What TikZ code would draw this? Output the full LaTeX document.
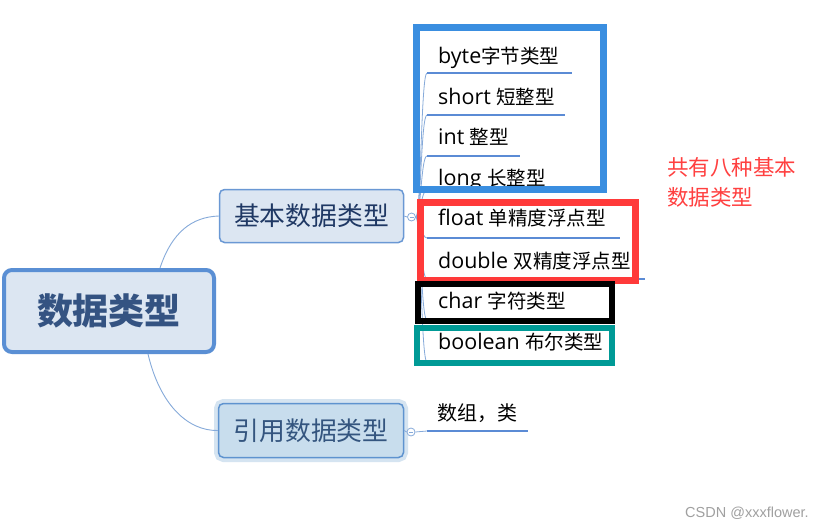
\documentclass[tikz,border=0pt]{standalone}
\usepackage{fontspec}
\setmainfont{Noto Sans CJK SC}
\newfontfamily\lat[Scale=1.1]{Open Sans}
\newfontfamily\wmfont{Liberation Sans}
\usetikzlibrary{calc}
\definecolor{nodefill}{HTML}{DCE6F2}
\definecolor{rootborder}{HTML}{5A8FD4}
\definecolor{basicborder}{HTML}{6A98D4}
\definecolor{roottext}{HTML}{345382}
\definecolor{basictext}{HTML}{1F3864}
\definecolor{reftext}{HTML}{34557F}
\definecolor{reffill}{HTML}{C8DDED}
\definecolor{refborder}{HTML}{5E93CF}
\definecolor{refhalo}{HTML}{D5E4F1}
\definecolor{branchc}{HTML}{86AADA}
\definecolor{ulinec}{HTML}{5B8BD5}
\definecolor{boxblue}{HTML}{3A8EE0}
\definecolor{boxred}{HTML}{FF3A3A}
\definecolor{boxteal}{HTML}{009A96}
\definecolor{notered}{HTML}{FF4040}
\definecolor{wmgray}{HTML}{A0A0A0}
\begin{document}
\begin{tikzpicture}[x=1pt,y=-1pt,
  rootbox/.style={rounded corners=8pt, draw=rootborder, line width=4pt, fill=nodefill,
    minimum width=210pt, minimum height=82pt, inner sep=0pt, text=roottext,
    font=\fontsize{36}{40}\selectfont\bfseries},
  basicbox/.style={rounded corners=5pt, draw=basicborder, line width=1.5pt, fill=nodefill,
    minimum width=184pt, minimum height=53pt, inner sep=0pt, text=basictext,
    font=\fontsize{25.8}{30}\selectfont},
  refbox/.style={rounded corners=5pt, draw=refborder, line width=1.5pt, fill=reffill,
    preaction={draw=refhalo, line width=9pt},
    minimum width=185pt, minimum height=54pt, inner sep=0pt, text=reftext,
    font=\fontsize{25.8}{30}\selectfont},
  leaf/.style={anchor=base west, inner sep=0pt, text=black, font=\fontsize{19.5}{22}\selectfont},
  mainline/.style={draw=branchc, line width=0.9pt},
  branch/.style={draw=branchc, line width=0.8pt},
  uline/.style={draw=ulinec, line width=2pt},
  knob/.style={circle, draw=branchc, fill=white, line width=0.8pt, minimum size=8pt, inner sep=0pt}
]
\useasboundingbox (0,0) rectangle (828,530);
\fill[white] (0,0) rectangle (828,530);

% main nodes
\node[rootbox] (root) at (109,311) {数据类型};
\node[basicbox] (basic) at (311.5,216) {基本数据类型};
\node[refbox] (ref) at (311,430.5) {引用数据类型};

% main connectors
\coordinate (rootT) at ($(root.north)+(51,0)$);
\coordinate (rootB) at ($(root.south)+(39,0)$);
\draw[mainline] (rootT) .. controls (172,232) and (192,217) .. (basic.west);
\draw[mainline] (rootB) .. controls (160,405) and (188,431) .. (ref.west);

% knobs
\node[knob] (k1) at (411.5,217) {};
\node[knob] (k2) at (411,432) {};
\draw[branch] (basic.east) -- (k1.west);
\draw[branch] (ref.east) -- (k2.west);
\draw[branch] ($(k1.center)+(-2,0)$) -- ($(k1.center)+(2,0)$);
\draw[branch] ($(k2.center)+(-2,0)$) -- ($(k2.center)+(2,0)$);

% underline coordinates
\foreach \n/\y/\xe in {a/73/572, b/115/565, c/156/520, d/190/560, e/238/620, f/279/645, g/320/600, h/362/605}{
  \coordinate (u\n) at (427,\y);
  \coordinate (v\n) at (\xe,\y);
  \draw[branch] (k1.east) .. controls (421,217) and (421,\y) .. (u\n);
  \draw[uline] (u\n) -- (v\n);
}
\coordinate (ui) at (427,431);
\coordinate (vi) at (528,431);
\draw[branch] (k2.east) -- (ui);
\draw[uline] (ui) -- (vi);

% leaf texts
\node[leaf] (t1) at (438,63.4) {{\lat byte}字节类型};
\node[leaf] (t2) at (438,104.4) {{\lat short }短整型};
\node[leaf] (t3) at (438,144.4) {{\lat int }整型};
\node[leaf] (t4) at (438,185.4) {{\lat long }长整型};
\node[leaf] (t5) at (438,225.4) {{\lat float }单精度浮点型};
\node[leaf] (t6) at (438,268.4) {{\lat double }双精度浮点型};
\node[leaf] (t7) at (438,308.4) {{\lat char }字符类型};
\node[leaf] (t8) at (438,349.4) {{\lat boolean }布尔类型};
\node[leaf, font=\fontsize{20}{22}\selectfont] (t9) at (437,420.6) {数组，类};

% highlight frames
\draw[boxblue, line width=7pt] (416.5,27.5) rectangle (603.5,189.5);
\draw[boxred, line width=7pt] (420.5,202.5) rectangle (635.5,280.5);
\draw[black, line width=6pt] (418,284) rectangle (612,321);
\draw[boxteal, line width=6pt] (417,328) rectangle (612,363);

% annotation
\node[anchor=west, align=left, inner sep=0pt, text=notered,
  font=\fontsize{21.5}{30}\selectfont] (note) at (667,182) {共有八种基本\\数据类型};

% watermark
\node[anchor=west, inner sep=0pt, text=wmgray, font=\wmfont\fontsize{14.5}{16}\selectfont]
  (wm) at (685,513) {CSDN @xxxflower.};
\end{tikzpicture}
\end{document}
